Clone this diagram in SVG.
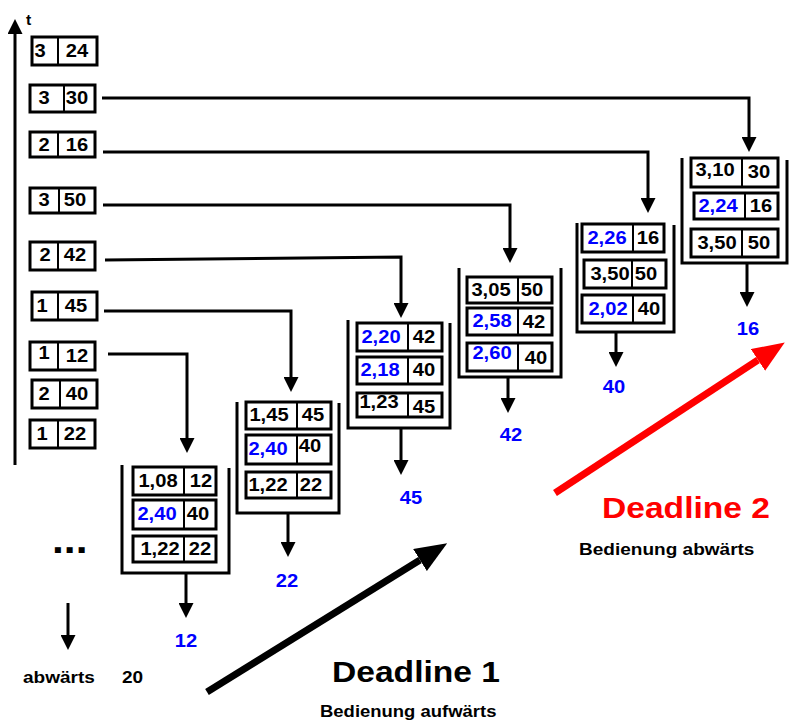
<svg xmlns="http://www.w3.org/2000/svg" width="789" height="720" viewBox="0 0 789 720">
<style>
.bx{fill:#fff;stroke:#000;stroke-width:3}
.dv{stroke:#000;stroke-width:2}
.st{fill:none;stroke:#000;stroke-width:3}
.ln{fill:none;stroke:#000;stroke-width:3}
text{font-family:"Liberation Sans",Arial,Helvetica,sans-serif;font-weight:bold}
.c{font-size:18px;text-anchor:middle;fill:#000}
.b{fill:#0000ff}
.lab{font-size:18px;text-anchor:middle;fill:#0000ff}
</style>
<defs>
<marker id="ah" markerUnits="userSpaceOnUse" markerWidth="15" markerHeight="15" viewBox="0 0 15 15" refX="0" refY="7.5" orient="auto"><path d="M0,0 L15,7.5 L0,15 z" fill="#000"/></marker>
<marker id="bigk" markerUnits="userSpaceOnUse" markerWidth="32" markerHeight="26" viewBox="0 0 32 26" refX="0" refY="13" orient="auto"><path d="M0,0 L32,13 L0,26 z" fill="#000"/></marker>
<marker id="bigr" markerUnits="userSpaceOnUse" markerWidth="32" markerHeight="26" viewBox="0 0 32 26" refX="0" refY="13" orient="auto"><path d="M0,0 L32,13 L0,26 z" fill="#ff0000"/></marker>
</defs>
<rect width="789" height="720" fill="#fff"/>

<g id="axis">
<line x1="15" y1="465" x2="15" y2="34" class="ln" marker-end="url(#ah)"/>
<text transform="translate(26 25) scale(1.12 1)" font-size="14">t</text>
</g>

<g id="q1"><rect class="bx" x="32" y="37" width="65" height="28"/><line class="dv" x1="58" y1="37" x2="58" y2="65"/>
<text class="c" transform="translate(40 57) scale(1.12 1)">3</text><text class="c" transform="translate(77 57) scale(1.12 1)">24</text></g>
<g id="q2"><rect class="bx" x="30" y="85" width="65" height="27"/><line class="dv" x1="64" y1="85" x2="64" y2="112"/>
<text class="c" transform="translate(44 104) scale(1.12 1)">3</text><text class="c" transform="translate(77 104) scale(1.12 1)">30</text></g>
<g id="q3"><rect class="bx" x="30" y="132" width="65" height="25"/><line class="dv" x1="58" y1="132" x2="58" y2="157"/>
<text class="c" transform="translate(44 151) scale(1.12 1)">2</text><text class="c" transform="translate(77 151) scale(1.12 1)">16</text></g>
<g id="q4"><rect class="bx" x="30" y="188" width="65" height="25"/><line class="dv" x1="59" y1="188" x2="59" y2="213"/>
<text class="c" transform="translate(44 206) scale(1.12 1)">3</text><text class="c" transform="translate(75 206) scale(1.12 1)">50</text></g>
<g id="q5"><rect class="bx" x="30" y="242" width="65" height="28"/><line class="dv" x1="58" y1="242" x2="58" y2="270"/>
<text class="c" transform="translate(45 261) scale(1.12 1)">2</text><text class="c" transform="translate(75 261) scale(1.12 1)">42</text></g>
<g id="q6"><rect class="bx" x="32" y="292" width="65" height="28"/><line class="dv" x1="58" y1="292" x2="58" y2="320"/>
<text class="c" transform="translate(42 312) scale(1.12 1)">1</text><text class="c" transform="translate(76 312) scale(1.12 1)">45</text></g>
<g id="q7"><rect class="bx" x="30" y="342" width="65" height="28"/><line class="dv" x1="58" y1="342" x2="58" y2="370"/>
<text class="c" transform="translate(44 359) scale(1.12 1)">1</text><text class="c" transform="translate(77 362) scale(1.12 1)">12</text></g>
<g id="q8"><rect class="bx" x="32" y="380" width="65" height="28"/><line class="dv" x1="60" y1="380" x2="60" y2="408"/>
<text class="c" transform="translate(44 400) scale(1.12 1)">2</text><text class="c" transform="translate(77 400) scale(1.12 1)">40</text></g>
<g id="q9"><rect class="bx" x="30" y="420" width="65" height="28"/><line class="dv" x1="58" y1="420" x2="58" y2="448"/>
<text class="c" transform="translate(42 440) scale(1.12 1)">1</text><text class="c" transform="translate(75 440) scale(1.12 1)">22</text></g>

<g id="connectors">
<path class="ln" d="M102,98 H749 V137" marker-end="url(#ah)"/>
<path class="ln" d="M103,152 H648 V198" marker-end="url(#ah)"/>
<path class="ln" d="M103,205 H510 V248" marker-end="url(#ah)"/>
<path class="ln" d="M105,260 L401,257 V303" marker-end="url(#ah)"/>
<path class="ln" d="M104,311 H291 V377" marker-end="url(#ah)"/>
<path class="ln" d="M108,354 H187 V438" marker-end="url(#ah)"/>
<line class="ln" x1="186" y1="573" x2="186" y2="603" marker-end="url(#ah)"/>
<line class="ln" x1="288" y1="513" x2="288" y2="542" marker-end="url(#ah)"/>
<line class="ln" x1="401" y1="428" x2="401" y2="460" marker-end="url(#ah)"/>
<line class="ln" x1="508" y1="377" x2="508" y2="398" marker-end="url(#ah)"/>
<line class="ln" x1="616" y1="332" x2="616" y2="352" marker-end="url(#ah)"/>
<line class="ln" x1="747" y1="263" x2="747" y2="292" marker-end="url(#ah)"/>
<line class="ln" x1="68" y1="603" x2="68" y2="635" marker-end="url(#ah)"/>
</g>

<g id="stack1">
<path class="st" d="M122,465 V573 H229 V468"/>
<rect class="bx" x="133" y="467" width="83" height="28"/><line class="dv" x1="184" y1="467" x2="184" y2="495"/>
<rect class="bx" x="133" y="500" width="83" height="29"/><line class="dv" x1="184" y1="500" x2="184" y2="529"/>
<rect class="bx" x="133" y="536" width="83" height="26"/><line class="dv" x1="184" y1="536" x2="184" y2="562"/>
<text class="c" transform="translate(158 487) scale(1.12 1)">1,08</text><text class="c" transform="translate(201 487) scale(1.12 1)">12</text>
<text class="c b" transform="translate(157 520) scale(1.12 1)">2,40</text><text class="c" transform="translate(198 520) scale(1.12 1)">40</text>
<text class="c" transform="translate(160 555) scale(1.12 1)">1,22</text><text class="c" transform="translate(200 555) scale(1.12 1)">22</text>
<text class="lab" transform="translate(186 647) scale(1.12 1)">12</text>
</g>

<g id="stack2">
<path class="st" d="M237,402 V513 H339 V403"/>
<rect class="bx" x="246" y="402" width="85" height="27"/><line class="dv" x1="297" y1="402" x2="297" y2="429"/>
<rect class="bx" x="246" y="435" width="85" height="29"/><line class="dv" x1="297" y1="435" x2="297" y2="464"/>
<rect class="bx" x="246" y="472" width="85" height="26"/><line class="dv" x1="297" y1="472" x2="297" y2="498"/>
<text class="c" transform="translate(269 421) scale(1.12 1)">1,45</text><text class="c" transform="translate(313 421) scale(1.12 1)">45</text>
<text class="c b" transform="translate(268 455) scale(1.12 1)">2,40</text><text class="c" transform="translate(310 452) scale(1.12 1)">40</text>
<text class="c" transform="translate(268 491) scale(1.12 1)">1,22</text><text class="c" transform="translate(311 491) scale(1.12 1)">22</text>
<text class="lab" transform="translate(287 587) scale(1.12 1)">22</text>
</g>

<g id="stack3">
<path class="st" d="M348,320 V428 H450 V323"/>
<rect class="bx" x="357" y="323" width="85" height="28"/><line class="dv" x1="408" y1="323" x2="408" y2="351"/>
<rect class="bx" x="357" y="357" width="85" height="27"/><line class="dv" x1="408" y1="357" x2="408" y2="384"/>
<rect class="bx" x="357" y="393" width="85" height="24"/><line class="dv" x1="408" y1="393" x2="408" y2="417"/>
<text class="c b" transform="translate(381 343) scale(1.12 1)">2,20</text><text class="c" transform="translate(424 343) scale(1.12 1)">42</text>
<text class="c b" transform="translate(380 376) scale(1.12 1)">2,18</text><text class="c" transform="translate(424 376) scale(1.12 1)">40</text>
<text class="c" transform="translate(379 408) scale(1.12 1)">1,23</text><text class="c" transform="translate(424 413) scale(1.12 1)">45</text>
<text class="lab" transform="translate(411 504) scale(1.12 1)">45</text>
</g>

<g id="stack4">
<path class="st" d="M459,268 V377 H561 V268"/>
<rect class="bx" x="467" y="277" width="85" height="26"/><line class="dv" x1="518" y1="277" x2="518" y2="303"/>
<rect class="bx" x="467" y="308" width="85" height="27"/><line class="dv" x1="518" y1="308" x2="518" y2="335"/>
<rect class="bx" x="467" y="343" width="85" height="28"/><line class="dv" x1="518" y1="343" x2="518" y2="371"/>
<text class="c" transform="translate(491 296) scale(1.12 1)">3,05</text><text class="c" transform="translate(532 296) scale(1.12 1)">50</text>
<text class="c b" transform="translate(492 327) scale(1.12 1)">2,58</text><text class="c" transform="translate(534 328) scale(1.12 1)">42</text>
<text class="c b" transform="translate(492 359) scale(1.12 1)">2,60</text><text class="c" transform="translate(536 364) scale(1.12 1)">40</text>
<text class="lab" transform="translate(511 441) scale(1.12 1)">42</text>
</g>

<g id="stack5">
<path class="st" d="M577,223 V332 H674 V225"/>
<rect class="bx" x="582" y="224" width="82" height="28"/><line class="dv" x1="633" y1="224" x2="633" y2="252"/>
<rect class="bx" x="584" y="260" width="82" height="28"/><line class="dv" x1="632" y1="260" x2="632" y2="288"/>
<rect class="bx" x="582" y="295" width="82" height="28"/><line class="dv" x1="633" y1="295" x2="633" y2="323"/>
<text class="c b" transform="translate(607 244) scale(1.12 1)">2,26</text><text class="c" transform="translate(648 244) scale(1.12 1)">16</text>
<text class="c" transform="translate(610 280) scale(1.12 1)">3,50</text><text class="c" transform="translate(646 280) scale(1.12 1)">50</text>
<text class="c b" transform="translate(608 315) scale(1.12 1)">2,02</text><text class="c" transform="translate(649 315) scale(1.12 1)">40</text>
<text class="lab" transform="translate(614 393) scale(1.12 1)">40</text>
</g>

<g id="stack6">
<path class="st" d="M682,158 V263 H787 V160"/>
<rect class="bx" x="691" y="158" width="87" height="29"/><line class="dv" x1="742" y1="158" x2="742" y2="187"/>
<rect class="bx" x="694" y="193" width="84" height="26"/><line class="dv" x1="745" y1="193" x2="745" y2="219"/>
<rect class="bx" x="691" y="229" width="87" height="28"/><line class="dv" x1="742" y1="229" x2="742" y2="257"/>
<text class="c" transform="translate(715 176) scale(1.12 1)">3,10</text><text class="c" transform="translate(759 178) scale(1.12 1)">30</text>
<text class="c b" transform="translate(718 212) scale(1.12 1)">2,24</text><text class="c" transform="translate(761 212) scale(1.12 1)">16</text>
<text class="c" transform="translate(717 249) scale(1.12 1)">3,50</text><text class="c" transform="translate(759 249) scale(1.12 1)">50</text>
<text class="lab" transform="translate(748 335) scale(1.12 1)">16</text>
</g>

<g id="more">
<text transform="translate(52 553) scale(1.12 1)" font-size="38">...</text>
<text transform="translate(23 683) scale(1.12 1)" font-size="17">abwärts</text>
<text transform="translate(122 683) scale(1.12 1)" font-size="17">20</text>
</g>

<g id="deadline1">
<line x1="207" y1="692" x2="420" y2="560" stroke="#000" stroke-width="7" marker-end="url(#bigk)"/>
<text transform="translate(332 682) scale(1.12 1)" font-size="30">Deadline 1</text>
<text transform="translate(320 717) scale(1.12 1)" font-size="16.5">Bedienung aufwärts</text>
</g>

<g id="deadline2">
<line x1="555" y1="493" x2="758" y2="360" stroke="#ff0000" stroke-width="7" marker-end="url(#bigr)"/>
<text transform="translate(602 518) scale(1.12 1)" font-size="30" fill="#ff0000">Deadline 2</text>
<text transform="translate(579 555) scale(1.12 1)" font-size="17">Bedienung abwärts</text>
</g>
</svg>
